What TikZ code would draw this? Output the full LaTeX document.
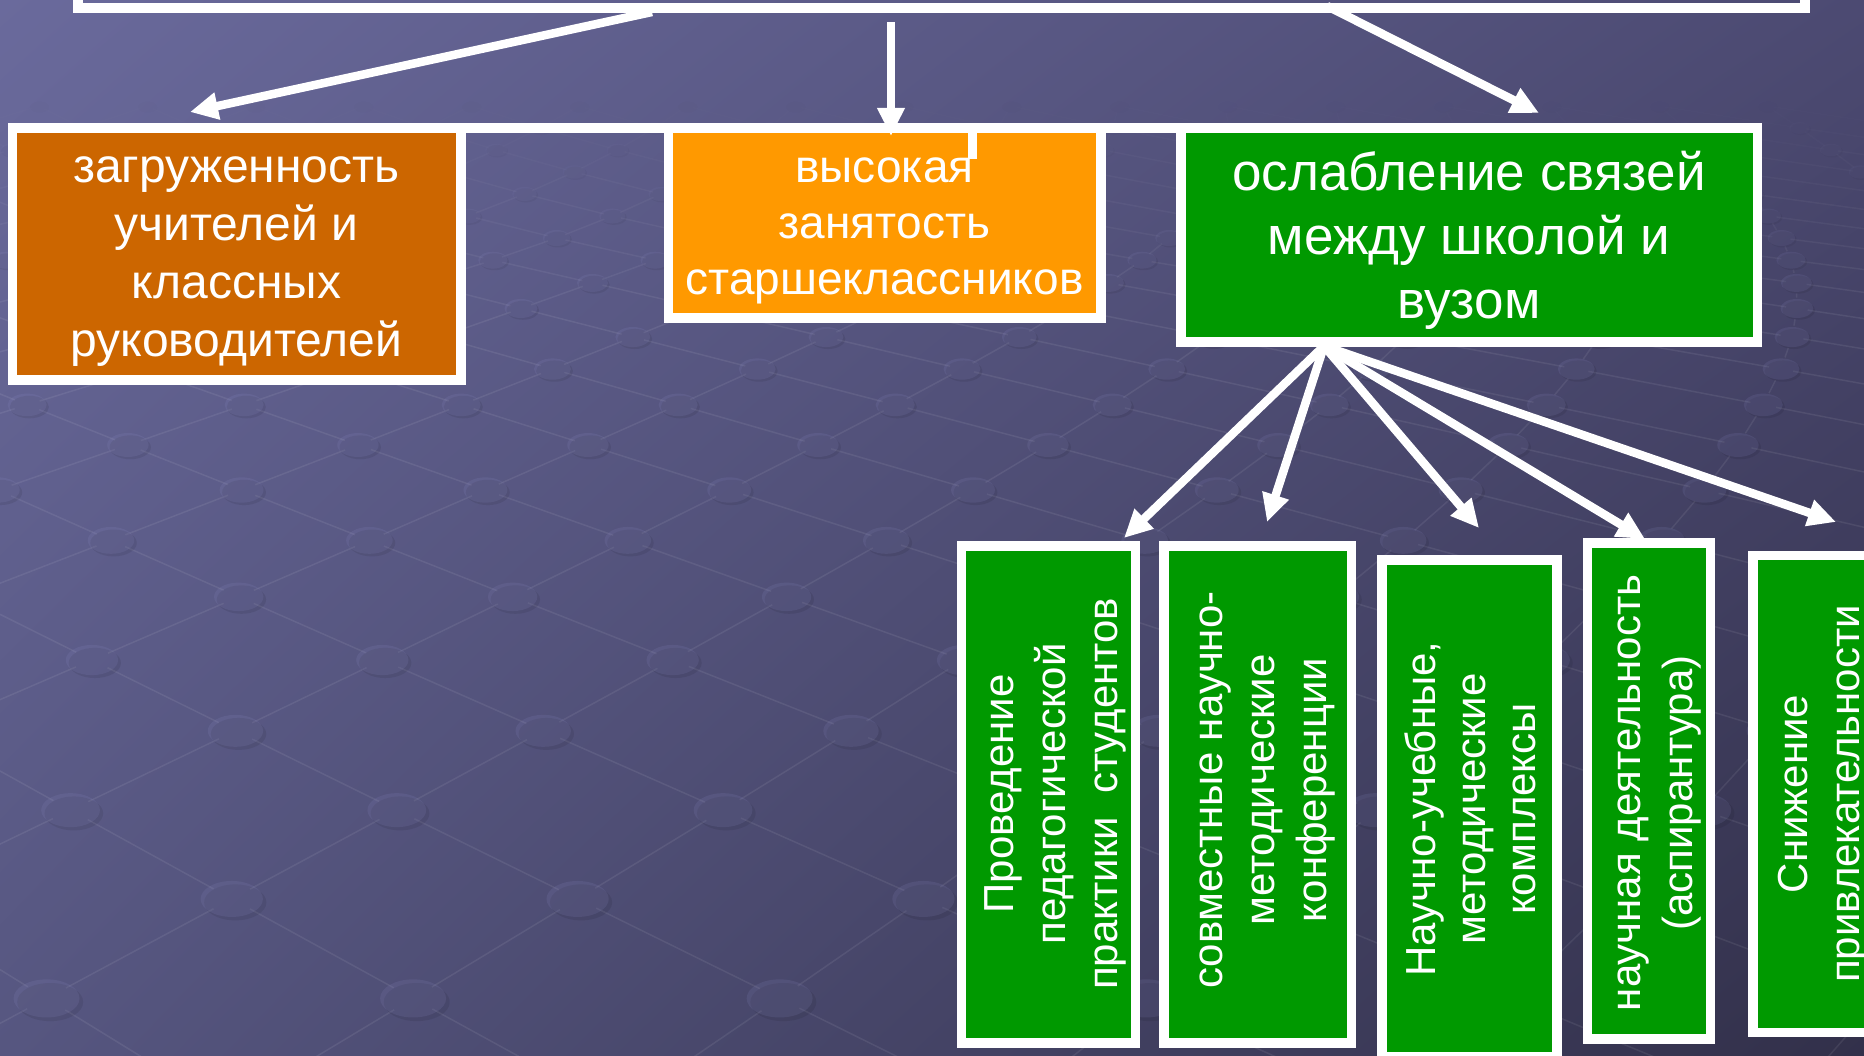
\documentclass[tikz,border=0pt]{standalone}
\usepackage{fontspec}
\setmainfont{Liberation Sans}
\usetikzlibrary{arrows.meta,shadings}
\definecolor{bgUL}{RGB}{106,106,156}
\definecolor{bgUR}{RGB}{76,74,114}
\definecolor{bgLL}{RGB}{86,86,128}
\definecolor{bgLR}{RGB}{50,48,74}
\definecolor{boxBrown}{RGB}{204,102,0}
\definecolor{boxOrange}{RGB}{255,153,0}
\definecolor{boxGreen}{RGB}{0,153,0}
\definecolor{dotLight}{RGB}{150,150,210}
\begin{document}
\begin{tikzpicture}[x=1pt,y=-1pt,
  box/.style={draw=white, line width=9.5pt, rectangle, inner sep=0pt},
  arr/.style={draw=white, line width=8.5pt, -{Triangle[length=28pt,width=26pt]}},
  txt/.style={text=white, inner sep=0pt, anchor=base},
  gridline/.style={draw=white, line width=1.5pt},
  declare function={
    rowy(\r) = (\r >= -6) * (445 + 375*(1.12^\r - 1)) + (\r < -6)*(260 + 22*(\r+6));
    rows(\r) = 230*1.06^\r;
    rphi(\r) = -0.596 + 0.5*abs(mod(\r,2));
    rfade(\r) = max(0, min(1, (\r+14)/10));
  }]
\useasboundingbox (0,0) rectangle (1864,1056);
\begin{scope}
\clip (0,0) rectangle (1864,1056);
\shade[upper left=bgUL, upper right=bgUR, lower left=bgLL, lower right=bgLR] (0,0) rectangle (1864,1056);
% background lattice
\foreach \r in {-14,...,8}{
  \pgfmathsetmacro{\s}{rows(\r)}
  \pgfmathsetmacro{\sn}{rows(\r+1)}
  \pgfmathsetmacro{\ya}{rowy(\r)}
  \pgfmathsetmacro{\yb}{rowy(\r+1)}
  \pgfmathsetmacro{\lo}{0.075*rfade(\r)}
  \pgfmathsetmacro{\sha}{0.06*\s}
  \pgfmathsetmacro{\shb}{0.06*\sn}
  \foreach \k in {-6,...,24}{
    \pgfmathsetmacro{\u}{\k + rphi(\r)}
    \pgfmathsetmacro{\xa}{265+\s*\u}
    \pgfmathsetmacro{\xb}{265+\sn*(\u+0.5)}
    \pgfmathsetmacro{\xc}{265+\sn*(\u-0.5)}
    \draw[gridline, draw opacity=\lo, shorten <=\sha pt, shorten >=\shb pt] (\xa,\ya) -- (\xb,\yb);
    \draw[gridline, draw opacity=\lo, shorten <=\sha pt, shorten >=\shb pt] (\xa,\ya) -- (\xc,\yb);
  }
}
\foreach \r in {-14,...,8}{
  \pgfmathsetmacro{\s}{rows(\r)}
  \pgfmathsetmacro{\ya}{rowy(\r)}
  \pgfmathsetmacro{\rx}{0.09*\s}
  \pgfmathsetmacro{\ry}{0.052*\s}
  \pgfmathsetmacro{\dd}{0.010*\s}
  \pgfmathsetmacro{\lo}{0.13*rfade(\r)}
  \pgfmathsetmacro{\so}{0.08*rfade(\r)}
  \foreach \k in {-6,...,24}{
    \pgfmathsetmacro{\u}{\k + rphi(\r)}
    \pgfmathsetmacro{\xa}{265+\s*\u}
    \fill[black, fill opacity=\so] (\xa+\dd,\ya+\dd) ellipse [x radius=\rx pt, y radius=\ry pt];
    \fill[dotLight, fill opacity=\lo] (\xa,\ya) ellipse [x radius=\rx pt, y radius=\ry pt];
  }
}

% top box (partly outside the picture)
\node[box, minimum width=1727pt, minimum height=120pt] (top) at (941.5,-52) {};

% connecting bar of the first row
\draw[white, line width=10pt] (8,128) -- (1176,128);
\draw[white, line width=2.5pt] (1176,124.5) -- (1564,124.5);

% first row boxes
\node[box, fill=boxBrown, minimum width=448.5pt, minimum height=252pt] (load) at (236.75,254) {};
\node[box, fill=boxOrange, minimum width=432.5pt, minimum height=190pt] (busy) at (884.75,223) {};
\node[box, fill=boxGreen, minimum width=576.5pt, minimum height=214pt] (weak) at (1469.25,235) {};
\draw[white, line width=9pt] (972.5,128) -- (972.5,159);

% second row boxes
\node[box, fill=boxGreen, minimum width=174.25pt, minimum height=497pt] (p1) at (1048.6,794.5) {};
\node[box, fill=boxGreen, minimum width=187.3pt, minimum height=497pt] (p2) at (1257.65,794.5) {};
\node[box, fill=boxGreen, minimum width=175pt, minimum height=496.5pt] (p3) at (1469.5,808.25) {};
\node[box, fill=boxGreen, minimum width=123pt, minimum height=496pt] (p4) at (1649,791) {};
\node[box, fill=boxGreen, minimum width=177pt, minimum height=477pt] (p5) at (1841.5,794) {};

% texts
\node[txt] (tload) at (236.5,183) {\fontsize{48}{58}\selectfont\begin{tabular}[t]{@{}c@{}}загруженность\\учителей и\\классных\\руководителей\end{tabular}};
\node[txt] (tbusy) at (884.5,183) {\fontsize{46}{56}\selectfont\begin{tabular}[t]{@{}c@{}}высокая\\занятость\\старшеклассников\end{tabular}};
\node[txt] (tweak) at (1469,191) {\fontsize{53}{64}\selectfont\begin{tabular}[t]{@{}c@{}}ослабление связей\\между школой и\\вузом\end{tabular}};

\node[txt, rotate=90] (tp1) at (1013,794) {\fontsize{42}{52}\selectfont\begin{tabular}[t]{@{}c@{}}Проведение\\педагогической\\практики\ \ студентов\end{tabular}};
\node[txt, rotate=90] (tp2) at (1222,790) {\fontsize{42}{52}\selectfont\begin{tabular}[t]{@{}c@{}}совместные научно-\\методические\\конференции\end{tabular}};
\node[txt, rotate=90] (tp3) at (1435,809) {\fontsize{42}{50}\selectfont\begin{tabular}[t]{@{}c@{}}Научно-учебные,\\методические\\комплексы\end{tabular}};
\node[txt, rotate=90] (tp4) at (1640,793) {\fontsize{42}{52}\selectfont\begin{tabular}[t]{@{}c@{}}научная деятельность\\(аспирантура)\end{tabular}};
\node[txt, rotate=90] (tp5) at (1807,794) {\fontsize{42}{52}\selectfont\begin{tabular}[t]{@{}c@{}}Снижение\\привлекательности\end{tabular}};

% arrow ends
\coordinate (s1) at (652,12);
\coordinate (e1) at (190,112);
\coordinate (s2) at (891,22);
\coordinate (e2) at (891,136);
\coordinate (s3) at (1327,6);
\coordinate (e3) at (1539,113);
\coordinate (fan) at (1324,346);
\coordinate (ea) at (1124,538);
\coordinate (eb) at (1267,522);
\coordinate (ec) at (1479,528);
\coordinate (ed) at (1645,539);
\coordinate (ee) at (1836,522);

\draw[arr] (s1) -- (e1);
\draw[arr] (s2) -- (e2);
\draw[arr] (s3) -- (e3);
\draw[arr] (fan) -- (ea);
\draw[arr] (fan) -- (eb);
\draw[arr] (fan) -- (ec);
\draw[arr] (fan) -- (ed);
\draw[arr] (fan) -- (ee);
\end{scope}
\end{tikzpicture}
\end{document}
